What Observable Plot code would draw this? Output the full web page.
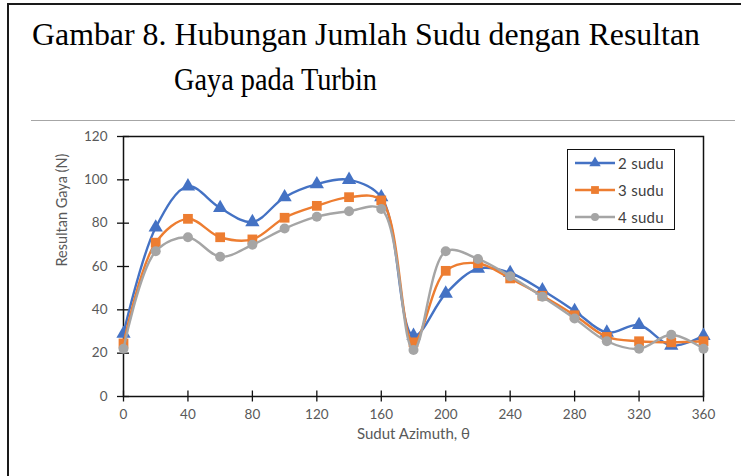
<!DOCTYPE html>
<html>
<head>
<meta charset="utf-8">
<script src="https://cdn.jsdelivr.net/npm/d3@7"></script>
<script src="https://cdn.jsdelivr.net/npm/@observablehq/plot@0.6"></script>
<style>
  html, body { margin: 0; padding: 0; background: #fff; }
  #page { position: relative; width: 741px; height: 476px; overflow: hidden; background: #fff; }
  #outer { position: absolute; left: 7px; top: 3px; width: 760px; height: 500px;
           border-left: 2px solid #1a1a1a; border-top: 2px solid #1a1a1a; box-sizing: border-box; }
  #sep { position: absolute; left: 31px; top: 120px; width: 704px; height: 0; border-top: 1.5px solid #a6a6a6; }
  .title { position: absolute; font-family: "Liberation Serif", "Times New Roman", serif; font-size: 32px;
           line-height: 1; white-space: nowrap; color: #000; transform-origin: 0 0; }
  #chart { position: absolute; left: 0; top: 0; }
  #legend { position: absolute; left: 567px; top: 149px; width: 108px; height: 81px; box-sizing: border-box;
            border: 1.5px solid #111; background: #fff; }
  .lrow { position: absolute; left: 7px; height: 20px; display: flex; align-items: center; }
  .lrow span { font-family: Lato, "Open Sans", sans-serif; font-size: 15px; color: #404040; margin-left: 3px; letter-spacing: 0.3px; }
</style>
</head>
<body>
<div id="page">
  <div id="outer"></div>
  <div class="title" id="t1" style="left:32px; top:18px;">Gambar 8. Hubungan Jumlah Sudu dengan Resultan</div>
  <div class="title" id="t2" style="left:174px; top:63px;">Gaya pada Turbin</div>
  <div id="sep"></div>
  <div id="chart"></div>
  <div id="legend"></div>
</div>
<script>
// ---- data ----
const angles = [0, 20, 40, 60, 80, 100, 120, 140, 160, 180, 200, 220, 240, 260, 280, 300, 320, 340, 360];
const sudu2 = [29, 78, 97, 87, 80.5, 92, 98, 100, 92, 28, 47.5, 59, 57, 49, 39.5, 29.5, 33, 23.5, 28];
const sudu3 = [24.5, 71, 82, 73.5, 72.5, 82.5, 88, 92, 90.5, 25, 58, 61.5, 54.5, 46.5, 37.5, 27.5, 25.5, 25, 25.5];
const sudu4 = [22, 67, 73.5, 64.5, 70, 77.5, 83, 85.5, 86.5, 21.5, 67, 63.5, 55.5, 46, 36, 25.5, 22, 28.5, 22];
const seriesNames = ["2 sudu", "3 sudu", "4 sudu"];
const seriesColors = ["#4472C4", "#ED7D31", "#A5A5A5"];
const seriesSymbols = ["triangle", "square", "circle"];
const seriesR = [5.3, 5.5, 5.0];
const xTicks = [0, 40, 80, 120, 160, 200, 240, 280, 320, 360];
const yTicks = [0, 20, 40, 60, 80, 100, 120];
const xLabel = "Sudut Azimuth, θ";
const yLabel = "Resultan Gaya (N)";

const seriesValues = [sudu2, sudu3, sudu4];
const tables = seriesValues.map((vals, i) => angles.map((a, j) => ({angle: a, value: vals[j], series: seriesNames[i]})));

// title width fit
const t1 = document.getElementById("t1"), t2 = document.getElementById("t2");
t1.style.transform = `scaleX(${668 / t1.getBoundingClientRect().width})`;
t2.style.transform = `scaleX(${203 / t2.getBoundingClientRect().width})`;

const seriesMarks = [];
tables.forEach((t, i) => {
  seriesMarks.push(Plot.line(t, {x: "angle", y: "value", stroke: seriesColors[i], strokeWidth: 2.4, curve: "catmull-rom"}));
  seriesMarks.push(Plot.dot(t, {x: "angle", y: "value", symbol: () => seriesSymbols[i], fill: seriesColors[i], stroke: "none", r: seriesR[i]}));
});

const chart = Plot.plot({
  width: 741, height: 476,
  marginLeft: 123, marginRight: 38, marginTop: 136, marginBottom: 80,
  x: {domain: [0, 360]},
  y: {domain: [0, 120]},
  symbol: {type: "identity"},
  style: {fontFamily: "Lato, 'Open Sans', sans-serif", fontSize: "13.5px", color: "#595959", background: "transparent"},
  marks: [
    Plot.frame({stroke: "#111", strokeWidth: 1.5}),
    Plot.axisX(xTicks, {tickSize: 11, dy: -5.5, tickPadding: 7, stroke: "#111", strokeWidth: 1.3, fill: "#595959", label: null}),
    Plot.axisY(yTicks, {tickSize: 12, dx: 6, tickPadding: 10, stroke: "#111", strokeWidth: 1.3, fill: "#595959", label: null}),
    Plot.text([xLabel], {frameAnchor: "bottom", dy: 42, fill: "#595959", fontSize: 15, letterSpacing: "1.2px"}),
    Plot.text([yLabel], {frameAnchor: "left", rotate: -90, dx: -61, fill: "#595959", fontSize: 14.5, letterSpacing: "0.4px"}),
    ...seriesMarks
  ]
});
document.getElementById("chart").appendChild(chart);

// legend
const legend = document.getElementById("legend");
const symPath = {
  triangle: d3.symbol(d3.symbolTriangle, Math.PI * 5.3 * 5.3)(),
  square: d3.symbol(d3.symbolSquare, Math.PI * 5.5 * 5.5)(),
  circle: d3.symbol(d3.symbolCircle, Math.PI * 5.0 * 5.0)()
};
seriesNames.forEach((name, i) => {
  const row = document.createElement("div");
  row.className = "lrow";
  row.style.top = (3 + i * 27) + "px";
  row.innerHTML = `<svg width="40" height="20"><line x1="0" x2="40" y1="10" y2="10" stroke="${seriesColors[i]}" stroke-width="2.4"/>` +
    `<path transform="translate(20,10) scale(0.8)" d="${symPath[seriesSymbols[i]]}" fill="${seriesColors[i]}"/></svg><span>${name}</span>`;
  legend.appendChild(row);
});
</script>
</body>
</html>
